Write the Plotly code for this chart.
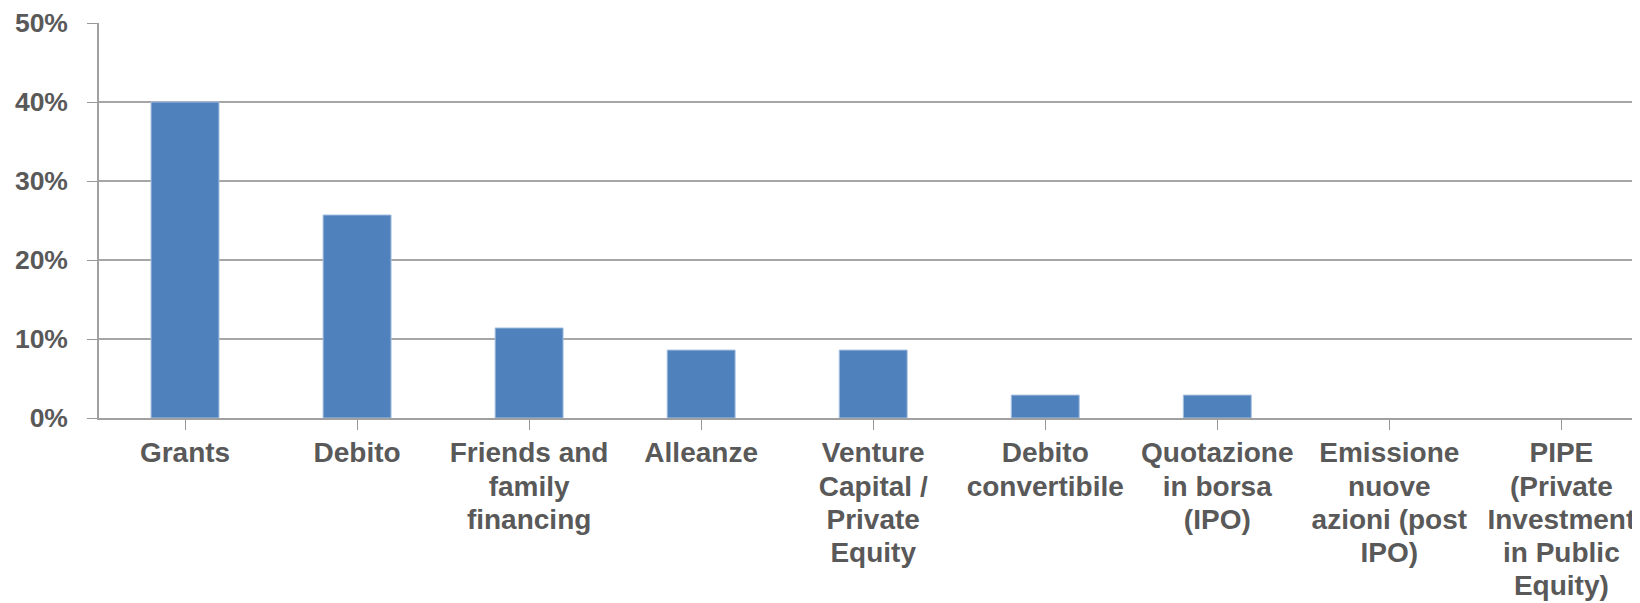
import plotly.graph_objects as go

categories = [
    ["Grants"],
    ["Debito"],
    ["Friends and", "family", "financing"],
    ["Alleanze"],
    ["Venture", "Capital /", "Private", "Equity"],
    ["Debito", "convertibile"],
    ["Quotazione", "in borsa", "(IPO)"],
    ["Emissione", "nuove", "azioni (post", "IPO)"],
    ["PIPE", "(Private", "Investment", "in Public", "Equity)"],
]
values = [40.0, 25.7, 11.4, 8.6, 8.6, 2.9, 2.9, 0.0, 0.0]
y_ticks = [0, 10, 20, 30, 40, 50]

# page body has an 8px default margin; compensate so the plot sits where the reference has it
OFF = 8
W, H = 1640 - OFF, 603 - OFF
left, top, bottom_px = 99 - OFF, 23 - OFF, 418 - OFF

font_family = "Liberation Sans, Arial, sans-serif"
text_color = "#595959"
label_px = 28


def fmt(lines):
    return "<br>".join(
        f'<span style="font-size:{label_px}px"><b>{ln}</b></span>' for ln in lines
    )


fig = go.Figure(
    go.Bar(
        x=list(range(len(categories))),
        y=values,
        marker=dict(
            color="#4F81BD",
            line=dict(color="#A9C1E0", width=[1 if v > 0 else 0 for v in values]),
        ),
        width=0.395,
        hoverinfo="skip",
    )
)

fig.update_layout(
    width=W,
    height=H,
    margin=dict(l=left, r=0, t=top, b=H - bottom_px, pad=0),
    plot_bgcolor="white",
    paper_bgcolor="white",
    showlegend=False,
    font=dict(family=font_family, size=25, color=text_color),
)

fig.update_xaxes(
    tickmode="array",
    tickvals=list(range(len(categories))),
    ticktext=[fmt(c) for c in categories],
    range=[-0.5, 8.457],
    tickson="boundaries",
    ticks="outside",
    ticklen=10,
    tickcolor="#999999",
    tickwidth=1.3,
    showline=True,
    linecolor="#A0A0A0",
    linewidth=1.5,
    showgrid=False,
    zeroline=False,
    automargin=False,
    tickangle=0,
    ticklabelstandoff=2,
    tickfont=dict(family=font_family, size=25.5, color=text_color),
)

fig.update_yaxes(
    range=[0, 50],
    tickmode="array",
    tickvals=y_ticks,
    ticktext=[f"<b>{v}%</b>" for v in y_ticks],
    ticks="outside",
    ticklen=10,
    tickcolor="#999999",
    tickwidth=1.3,
    showline=True,
    linecolor="#A0A0A0",
    linewidth=1.5,
    showgrid=True,
    gridcolor="#A6A6A6",
    gridwidth=1.5,
    zeroline=False,
    automargin=False,
    ticklabelstandoff=14,
    tickfont=dict(family=font_family, size=26.5, color=text_color),
)

fig.write_html("out.html")
